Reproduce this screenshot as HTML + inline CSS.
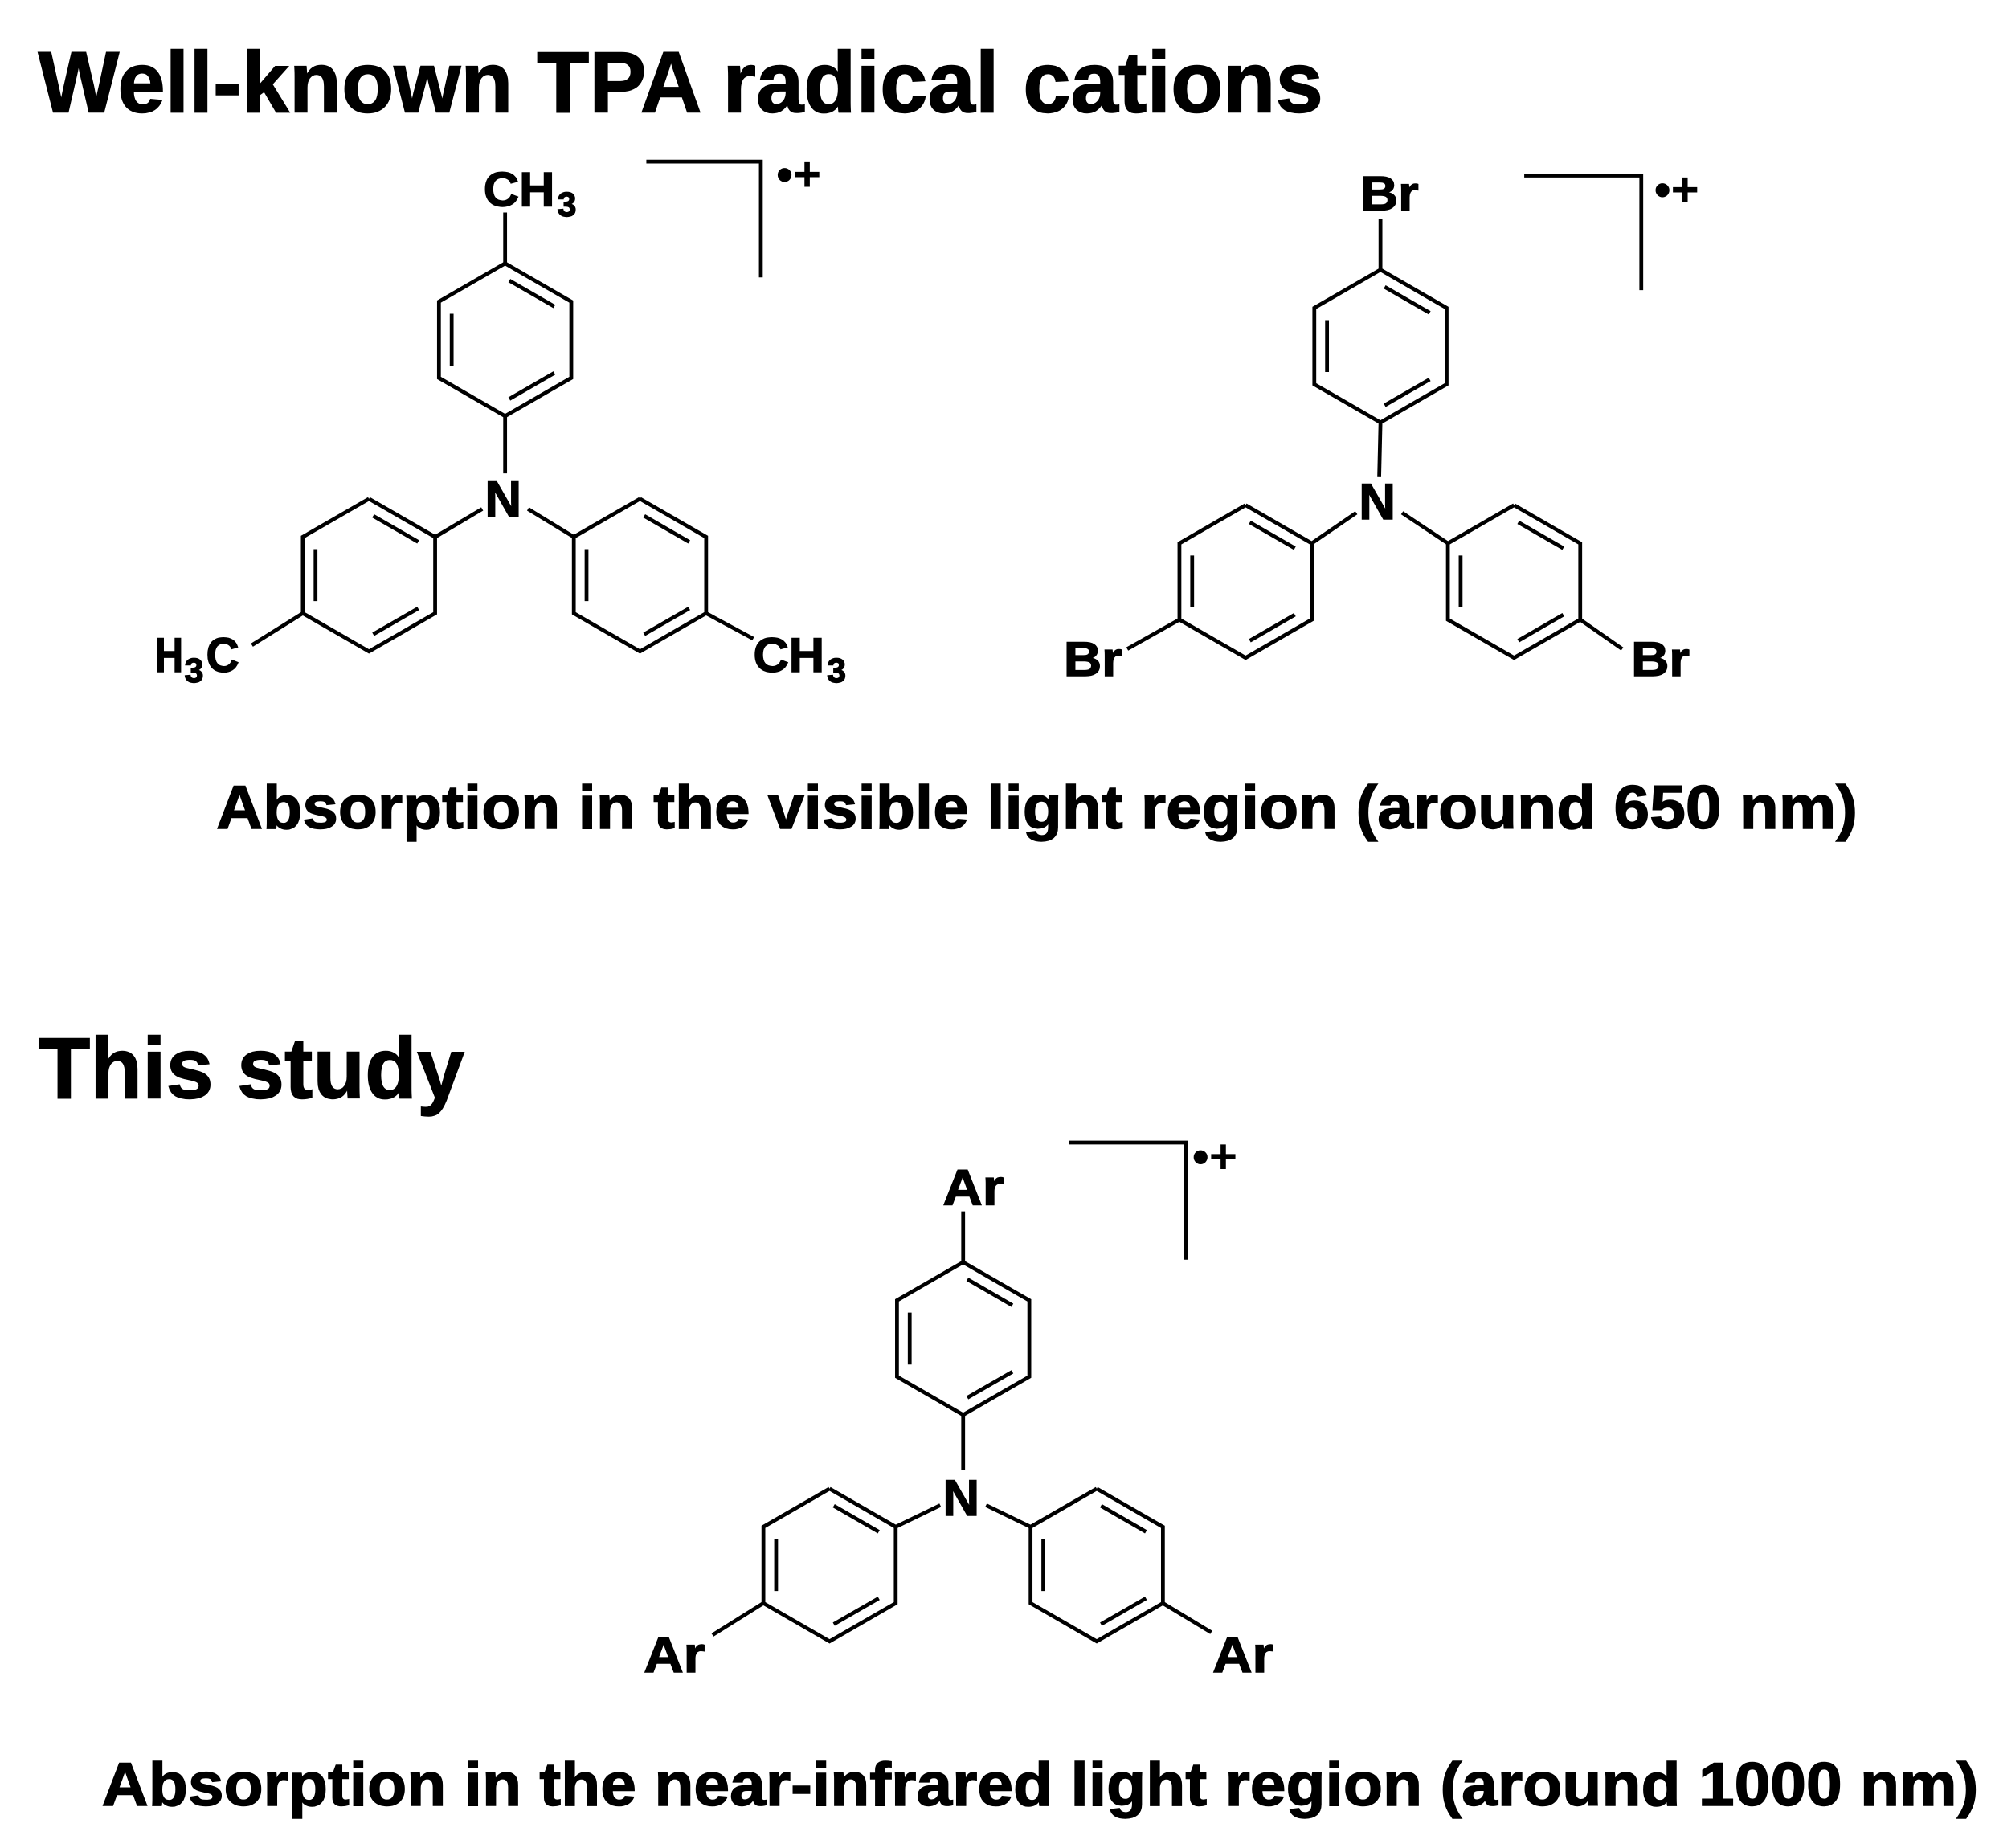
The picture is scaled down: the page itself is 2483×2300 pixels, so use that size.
<!DOCTYPE html>
<html><head><meta charset="utf-8"><style>
html,body{margin:0;padding:0;background:#fff;}
svg{display:block;}
text{font-family:"Liberation Sans",Arial,sans-serif;font-weight:bold;fill:#000;stroke:#000;stroke-width:0.9;}
</style></head><body>
<svg id="s" width="2483" height="2300" viewBox="0 0 1568 1452.4" xmlns="http://www.w3.org/2000/svg">
<g id="g" stroke="#000" stroke-width="3" fill="none" stroke-linecap="butt"></g>
<text x="30" y="88" font-size="68" textLength="1010" lengthAdjust="spacingAndGlyphs">Well-known TPA radical cations</text>
<text x="170" y="651" font-size="48" textLength="1290" lengthAdjust="spacingAndGlyphs">Absorption in the visible light region (around 650 nm)</text>
<text x="30" y="863" font-size="68" textLength="335" lengthAdjust="spacingAndGlyphs">This study</text>
<text x="80" y="1419" font-size="48" textLength="1475" lengthAdjust="spacingAndGlyphs">Absorption in the near-infrared light region (around 1000 nm)</text>

<!-- molecule 1 labels -->
<text x="380" y="162" font-size="38" textLength="56" lengthAdjust="spacingAndGlyphs">CH</text><text x="438" y="170" font-size="27">3</text>
<text x="381" y="406" font-size="40">N</text>
<text x="122" y="528" font-size="38" textLength="22" lengthAdjust="spacingAndGlyphs">H</text><text x="145" y="536" font-size="27">3</text><text x="162" y="528" font-size="38" textLength="26" lengthAdjust="spacingAndGlyphs">C</text>
<text x="592" y="528" font-size="38" textLength="56" lengthAdjust="spacingAndGlyphs">CH</text><text x="650" y="536" font-size="27">3</text>
<text x="610" y="150" font-size="38" font-weight="normal" style="stroke-width:0">•+</text>

<!-- molecule 2 labels -->
<text x="1069" y="165" font-size="38" textLength="46" lengthAdjust="spacingAndGlyphs">Br</text>
<text x="1068" y="408" font-size="40">N</text>
<text x="836" y="531" font-size="38" textLength="46" lengthAdjust="spacingAndGlyphs">Br</text>
<text x="1282" y="531" font-size="38" textLength="46" lengthAdjust="spacingAndGlyphs">Br</text>
<text x="1300" y="162" font-size="38" font-weight="normal" style="stroke-width:0">•+</text>

<!-- molecule 3 labels -->
<text x="741" y="947" font-size="40" textLength="48" lengthAdjust="spacingAndGlyphs">Ar</text>
<text x="741" y="1191" font-size="40">N</text>
<text x="506" y="1314" font-size="40" textLength="48" lengthAdjust="spacingAndGlyphs">Ar</text>
<text x="953" y="1314" font-size="40" textLength="48" lengthAdjust="spacingAndGlyphs">Ar</text>
<text x="937" y="922" font-size="38" font-weight="normal" style="stroke-width:0">•+</text>
</svg>
<script>
var g=document.getElementById('g'),NS='http://www.w3.org/2000/svg';
function L(a,b,c,d){var l=document.createElementNS(NS,'line');l.setAttribute('x1',a);l.setAttribute('y1',b);l.setAttribute('x2',c);l.setAttribute('y2',d);g.appendChild(l);}
function P(pts){var p=document.createElementNS(NS,'polyline');p.setAttribute('points',pts.map(function(q){return q.join(',')}).join(' '));g.appendChild(p);}
function ring(cx,cy){var r=60,w=52;
 var v=[[cx,cy-r],[cx+w,cy-r/2],[cx+w,cy+r/2],[cx,cy+r],[cx-w,cy+r/2],[cx-w,cy-r/2]];
 P(v.concat([v[0]]));
 [[0,1],[2,3],[4,5]].forEach(function(e){var a=v[e[0]],b=v[e[1]];
  var mx=(a[0]+b[0])/2,my=(a[1]+b[1])/2,dx=cx-mx,dy=cy-my,dl=Math.hypot(dx,dy),o=10;
  var ox=dx/dl*o,oy=dy/dl*o,t=0.16;
  L(a[0]+(b[0]-a[0])*t+ox,a[1]+(b[1]-a[1])*t+oy,b[0]-(b[0]-a[0])*t+ox,b[1]-(b[1]-a[1])*t+oy);});
}
function mol(nx,ny,tcx,tcy,lcx,lcy,rcx,rcy,top,ll,rr,br){
 ring(tcx,tcy);ring(lcx,lcy);ring(rcx,rcy);
 L(tcx,tcy-60,tcx,top);
 L(tcx,tcy+60,nx,ny-20);
 L(nx-18,ny+8,lcx+52,lcy-30);
 L(nx+18,ny+8,rcx-52,rcy-30);
 L(lcx-52,lcy+30,ll[0],ll[1]);
 L(rcx+52,rcy+30,rr[0],rr[1]);
 P([[br[0],br[1]],[br[2],br[1]],[br[2],br[3]]]);
}
mol(397,392,397,267,290,452,503,452,167,[198,507],[592,502],[508,127,598,218]);
mol(1084,395,1085,272,979,457,1190,457,172,[886,510],[1275,510],[1198,138,1290,228]);
mol(757,1175,757,1052,652,1230,862,1230,952,[560,1285],[952,1283],[840,898,932,990]);
</script>
</body></html>
